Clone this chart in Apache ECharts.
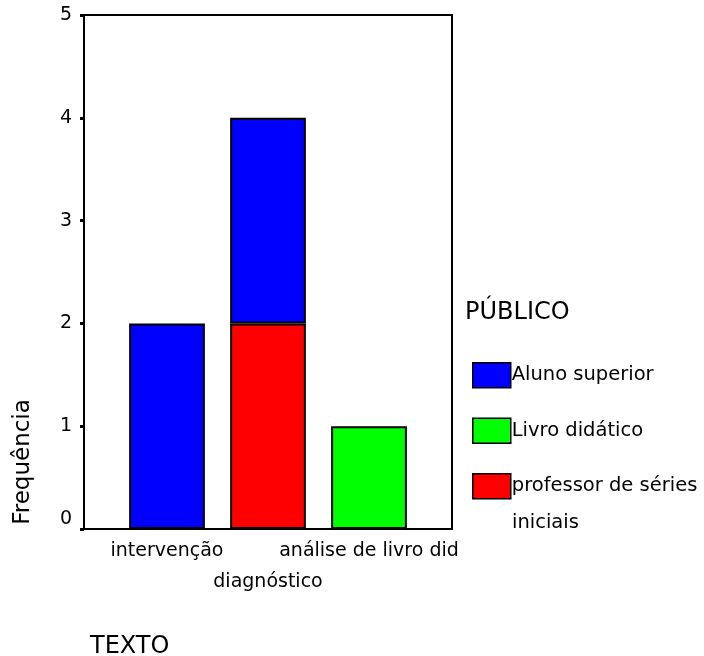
<!DOCTYPE html>
<html>
<head>
<meta charset="utf-8">
<script src="https://cdn.jsdelivr.net/npm/echarts@6/dist/echarts.min.js"></script>
<style>
  html, body { margin: 0; padding: 0; background: #fff; }
  #chart { width: 704px; height: 656px; }
</style>
</head>
<body>
<div id="chart"></div>
<script>
// categorias do eixo x (TEXTO)
const categories = ['intervenção', 'diagnóstico', 'análise de livro did'];
// frequência por PÚBLICO
const publico = ['Aluno superior', 'Livro didático', 'professor de séries iniciais'];
const alunoSuperior = [2, 2, null];
const livroDidatico = [null, null, 1];
const professorSeries = [null, 2, null];
const yMin = 0, yMax = 5, yStep = 1;

const FONT = 'DejaVu Sans';
const barBorder = { borderColor: '#000', borderWidth: 2 };
const plainTitle = { fontFamily: FONT, fontWeight: 'normal', color: '#000' };

var mychart = echarts.init(document.getElementById('chart'));
const option = {
  animation: false,
  backgroundColor: '#fff',
  textStyle: { fontFamily: FONT, color: '#000' },
  title: [
    { text: 'PÚBLICO', left: 460, top: 296, textStyle: Object.assign({ fontSize: 24 }, plainTitle) },
    { text: 'TEXTO', left: 85, top: 630, textStyle: Object.assign({ fontSize: 24 }, plainTitle) },
    // segunda linha da legenda
    { text: 'iniciais', left: 507, top: 508, textStyle: Object.assign({ fontSize: 19.5 }, plainTitle) }
  ],
  graphic: [
    {
      type: 'text', x: 23, y: 462, rotation: Math.PI / 2,
      style: { text: 'Frequência', font: '23px "DejaVu Sans"', fill: '#000', align: 'center', verticalAlign: 'middle' }
    }
  ],
  legend: {
    orient: 'vertical',
    left: 467,
    top: 357,
    icon: 'rect',
    itemWidth: 38,
    itemHeight: 25,
    itemGap: 29,
    itemStyle: { borderColor: '#000', borderWidth: 1.5 },
    textStyle: { fontFamily: FONT, fontSize: 19.5, color: '#000', padding: [0, 0, 0, -4] },
    formatter: function (name) { return name.replace(' iniciais', ''); },
    data: publico
  },
  grid: [
    { left: 84, right: 252, top: 15, bottom: 127, show: true, borderColor: '#000', borderWidth: 2, backgroundColor: 'transparent' },
    { left: 116.5, right: 284.5, top: 15, bottom: 127 }
  ],
  xAxis: [
    { gridIndex: 0, type: 'category', data: categories, show: false },
    {
      gridIndex: 1,
      type: 'category',
      data: categories,
      axisLine: { lineStyle: { color: '#000', width: 2 } },
      axisTick: { alignWithLabel: true, length: 4, lineStyle: { color: '#000', width: 3 } },
      axisLabel: {
        interval: 0,
        margin: 7,
        color: '#000',
        fontFamily: FONT,
        fontSize: 19,
        lineHeight: 31,
        formatter: function (v, i) { return i % 2 === 1 ? '\n' + v : v; }
      }
    }
  ],
  yAxis: [
    {
      gridIndex: 0,
      type: 'value',
      min: yMin, max: yMax, interval: yStep,
      splitLine: { show: false },
      axisLine: { show: true, lineStyle: { color: '#000', width: 2 } },
      axisTick: { show: true, length: 4, lineStyle: { color: '#000', width: 3 } },
      axisLabel: { color: '#000', fontFamily: FONT, fontSize: 19, margin: 12, verticalAlignMinLabel: 'bottom' }
    },
    { gridIndex: 1, type: 'value', min: yMin, max: yMax, interval: yStep, show: false, splitLine: { show: false } }
  ],
  series: [
    {
      name: publico[2], type: 'bar', stack: 'total', xAxisIndex: 1, yAxisIndex: 1,
      barWidth: '75%', data: professorSeries, itemStyle: Object.assign({ color: '#ff0000' }, barBorder)
    },
    {
      name: publico[0], type: 'bar', stack: 'total', xAxisIndex: 1, yAxisIndex: 1,
      barWidth: '75%', data: alunoSuperior, itemStyle: Object.assign({ color: '#0000ff' }, barBorder)
    },
    {
      name: publico[1], type: 'bar', stack: 'total', xAxisIndex: 1, yAxisIndex: 1,
      barWidth: '75%', data: livroDidatico, itemStyle: Object.assign({ color: '#00ff00' }, barBorder)
    }
  ]
};
mychart.setOption(option);
</script>
</body>
</html>
